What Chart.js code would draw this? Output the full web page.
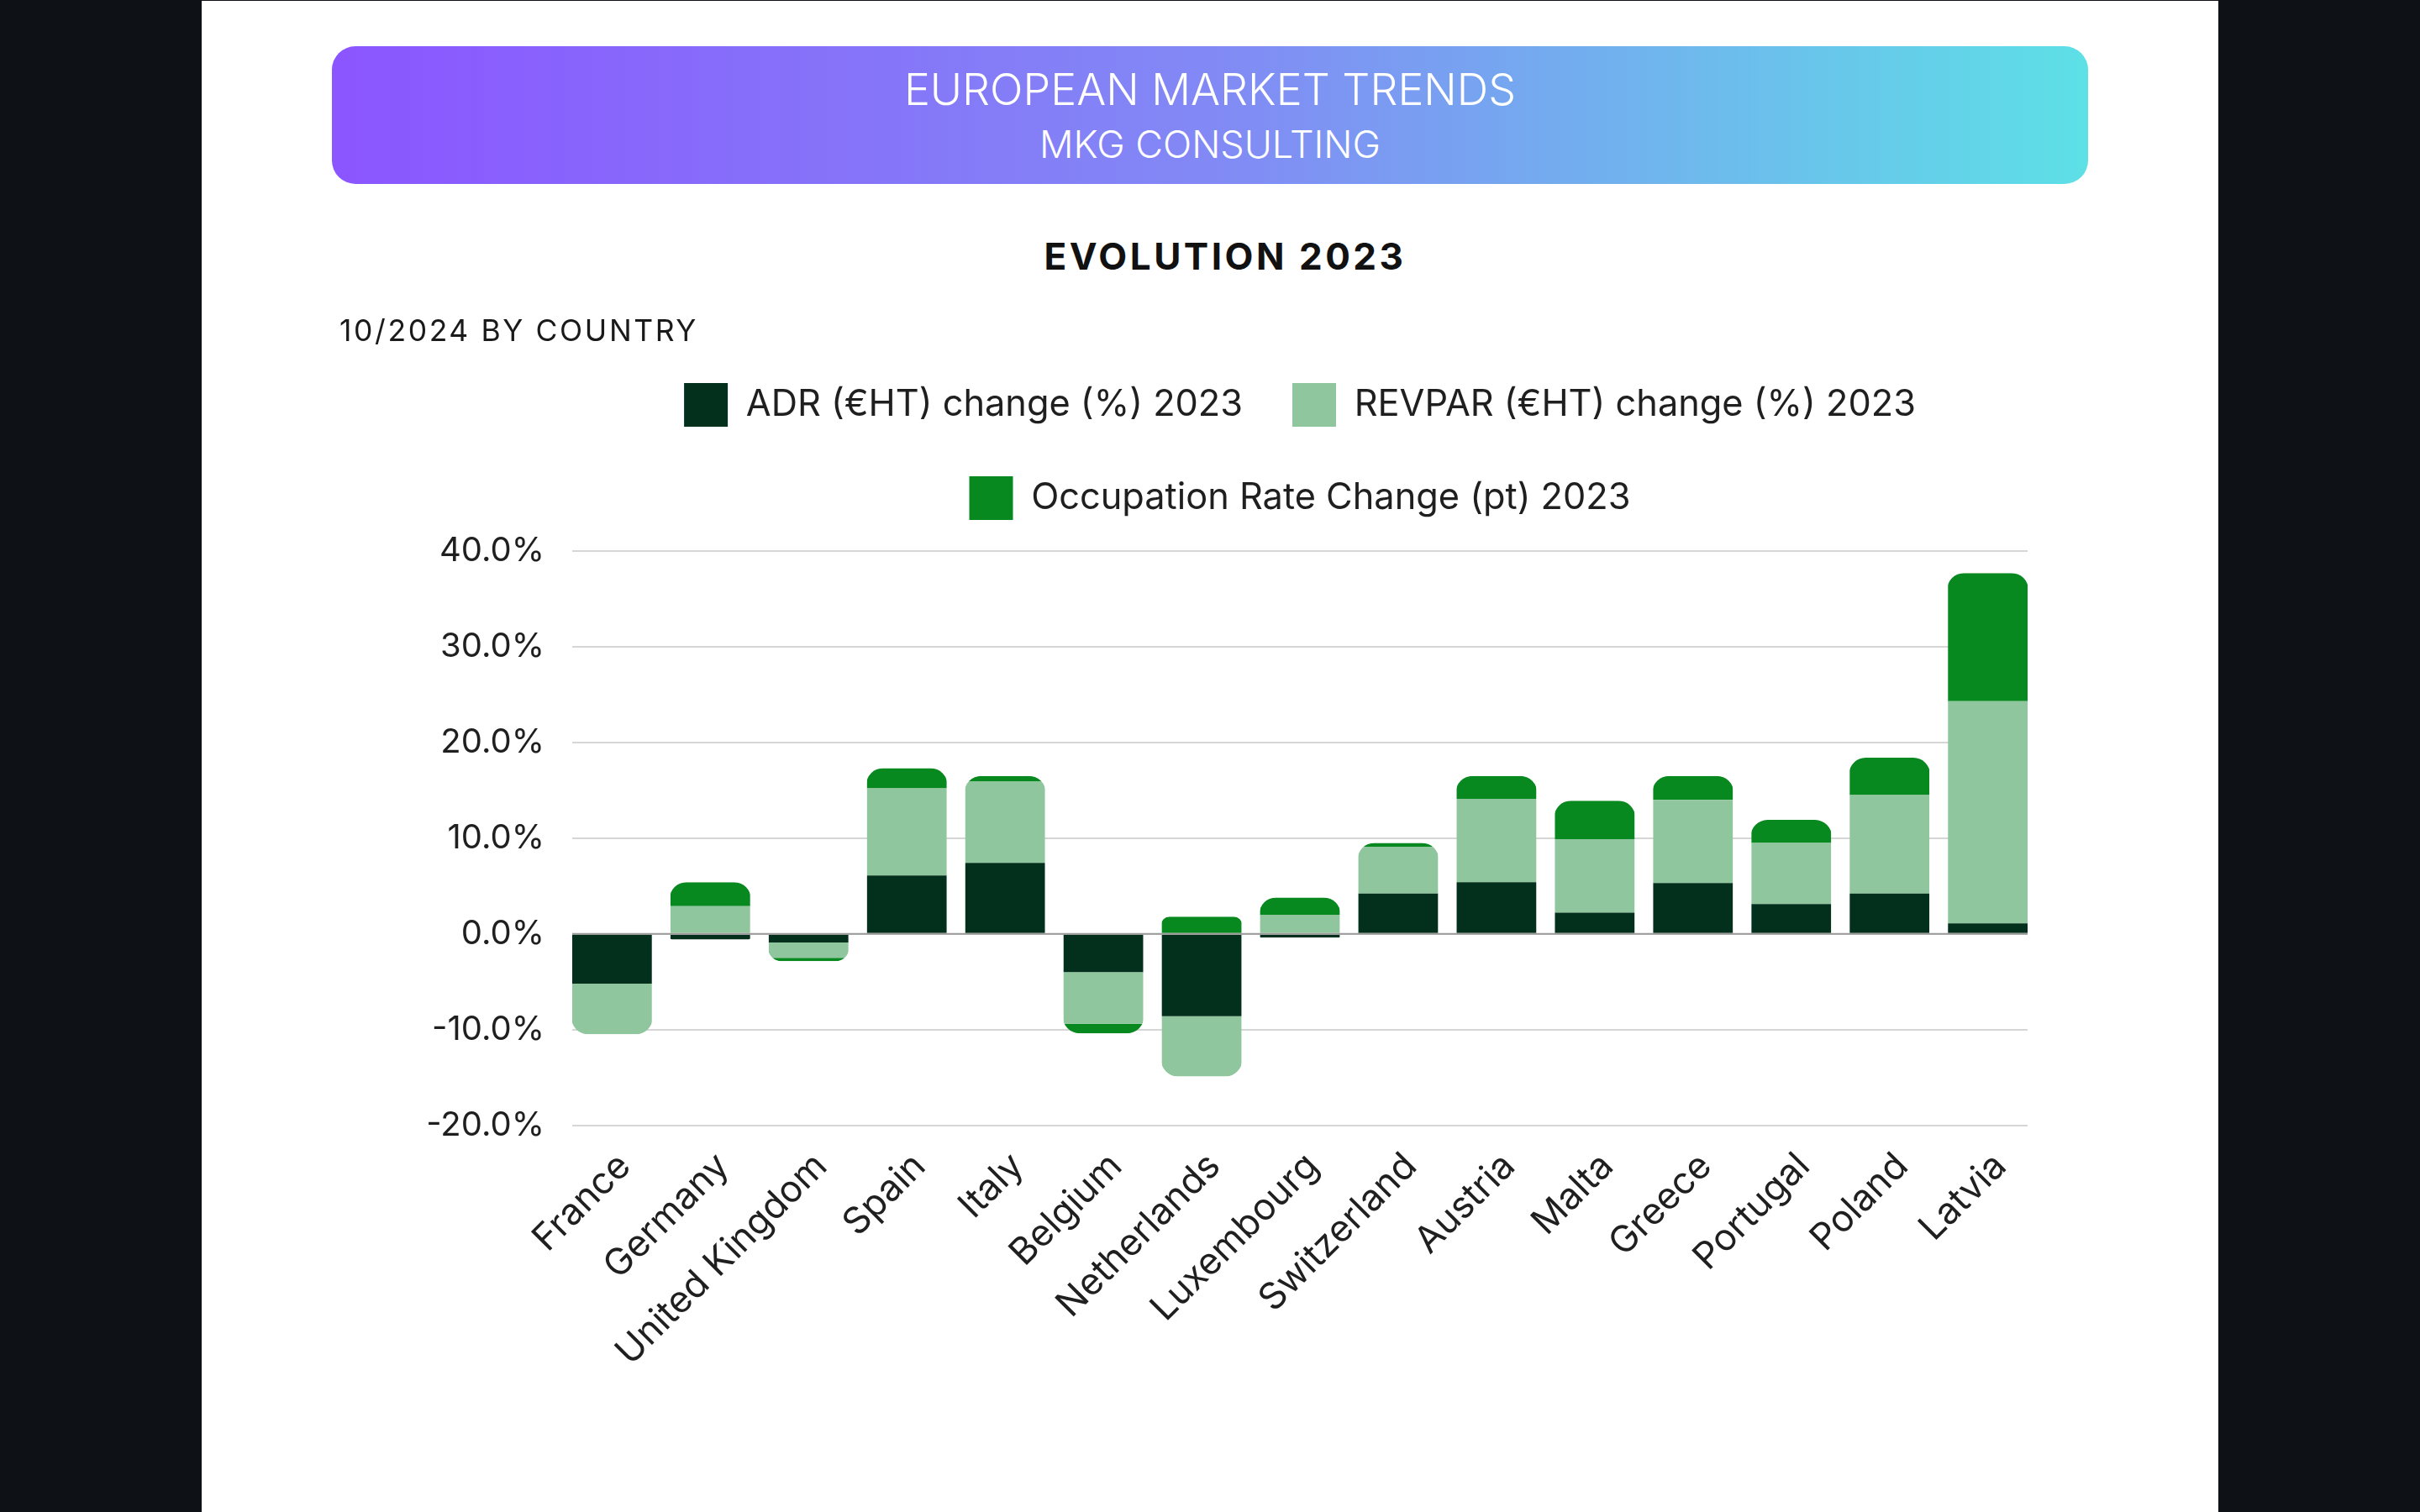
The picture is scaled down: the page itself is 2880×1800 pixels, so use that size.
<!DOCTYPE html>
<html>
<head>
<meta charset="utf-8">
<script src="https://cdn.jsdelivr.net/npm/chart.js@4.4.1/dist/chart.umd.min.js"></script>
<style>
  html, body { margin: 0; padding: 0; }
  body { width: 2880px; height: 1800px; background: #0e1217; position: relative; overflow: hidden; font-family: Inter, "Noto Sans", sans-serif; }
  #panel { position: absolute; left: 240px; top: 1px; width: 2400px; height: 1799px; background: #ffffff; }
  #header { position: absolute; left: 395px; top: 55px; width: 2090px; height: 164px; border-radius: 28px;
            background: linear-gradient(90deg, #8b55ff 0%, #8289f5 50%, #5de0e6 100%); }
  .hl { position: absolute; left: 0; width: 100%; text-align: center; color: #ffffff; line-height: 1; white-space: nowrap; }
  #h1 { top: 26px; font-size: 52px; font-weight: 300; }
  #h2 { top: 94px; font-size: 45px; font-weight: 300; }
  #title { position: absolute; left: 395px; width: 2126px; top: 283px; text-align: center; font-size: 44px; line-height: 1;
           font-weight: 700; letter-spacing: 3.5px; color: #111111; white-space: nowrap; }
  #sub { position: absolute; left: 404px; top: 375.5px; font-size: 35.5px; line-height: 1; letter-spacing: 2.6px; color: #1a1a1a; white-space: nowrap; }
  #wrap { position: absolute; left: 395px; top: 380px; width: 2090px; height: 1420px; }
</style>
</head>
<body>
<div id="panel"></div>
<div id="header">
  <div class="hl" id="h1">EUROPEAN MARKET TRENDS</div>
  <div class="hl" id="h2">MKG CONSULTING</div>
</div>
<div id="wrap"><canvas id="c" width="2090" height="1420"></canvas></div>
<div id="title">EVOLUTION 2023</div>
<div id="sub">10/2024 BY COUNTRY</div>
<script>
const countries = ['France', 'Germany', 'United Kingdom', 'Spain', 'Italy', 'Belgium', 'Netherlands',
  'Luxembourg', 'Switzerland', 'Austria', 'Malta', 'Greece', 'Portugal', 'Poland', 'Latvia'];
const seriesNames = ['ADR (€HT) change (%) 2023', 'REVPAR (€HT) change (%) 2023', 'Occupation Rate Change (pt) 2023'];
const adrChange    = [-5.2, -0.6, -0.9, 6.1, 7.4, -4.0, -8.6, -0.4, 4.2, 5.4, 2.2, 5.3, 3.1, 4.2, 1.1];
const revparChange = [-5.3,  2.9, -1.6, 9.1, 8.5, -5.4, -6.3,  2.0, 4.9, 8.7, 7.7, 8.7, 6.4, 10.3, 23.2];
const occChange    = [ 0.0,  2.5, -0.35, 2.1, 0.6, -1.0, 1.8,  1.8, 0.4, 2.4, 4.0, 2.5, 2.4, 3.9, 13.4];
const yMin = -20, yMax = 40, yStep = 10;
const colors = ['#03301d', '#8fc69d', '#07891f'];
const barRadius = 20;

const toPoints = arr => arr.map((v, i) => ({ x: i, y: v }));

const stackClip = {
  id: 'stackClip',
  beforeDatasetsDraw(chart) {
    const ctx = chart.ctx;
    const zero = chart.scales.y.getPixelForValue(0);
    const metas = chart.data.datasets.map((d, i) => chart.getDatasetMeta(i));
    ctx.save();
    ctx.beginPath();
    countries.forEach((c, i) => {
      let top = zero, bottom = zero, x = null, w = 0;
      metas.forEach(m => {
        const el = m.data[i];
        if (!el) return;
        x = el.x; w = el.width;
        top = Math.min(top, el.y, el.base);
        bottom = Math.max(bottom, el.y, el.base);
      });
      if (x === null) return;
      const left = x - w / 2;
      const hp = zero - top;
      if (hp > 0.01) { const r = Math.min(barRadius, hp / 2, w / 2); ctx.roundRect(left - 1, top, w + 2, hp, [r, r, 0, 0]); }
      const hn = bottom - zero;
      if (hn > 0.01) { const r = Math.min(barRadius, hn / 2, w / 2); ctx.roundRect(left - 1, zero, w + 2, hn, [0, 0, r, r]); }
    });
    ctx.clip();
  },
  afterDatasetsDraw(chart) {
    const ctx = chart.ctx;
    ctx.restore();
    const a = chart.chartArea;
    const z = chart.scales.y.getPixelForValue(0);
    ctx.save();
    ctx.strokeStyle = '#9a9a9a';
    ctx.lineWidth = 2;
    ctx.beginPath();
    ctx.moveTo(a.left, z);
    ctx.lineTo(a.right, z);
    ctx.stroke();
    ctx.restore();
  }
};

const legendGap = {
  id: 'legendGap',
  beforeInit(chart) {
    const legend = chart.legend;
    const fit = legend.fit;
    legend.fit = function () { fit.bind(legend)(); this.height += 27; };
  }
};

new Chart(document.getElementById('c'), {
  type: 'bar',
  data: {
    datasets: [
      { label: seriesNames[0], data: toPoints(adrChange), backgroundColor: colors[0] },
      { label: seriesNames[1], data: toPoints(revparChange), backgroundColor: colors[1] },
      { label: seriesNames[2], data: toPoints(occChange), backgroundColor: colors[2] }
    ]
  },
  plugins: [stackClip, legendGap],
  options: {
    responsive: false,
    animation: false,
    borderWidth: 0,
    barPercentage: 0.9,
    categoryPercentage: 0.9,
    layout: { padding: { top: 17, right: 72, left: 0, bottom: 0 } },
    plugins: {
      tooltip: { enabled: false },
      legend: {
        position: 'top',
        fullSize: false,
        labels: { boxWidth: 52, boxHeight: 52, padding: 59, color: '#1f1f1f', font: { family: 'Inter', size: 43.3 } }
      }
    },
    scales: {
      x: {
        type: 'linear', stacked: true, min: -0.405, max: 14.405, offset: false,
        grid: { display: false }, border: { display: false },
        ticks: {
          stepSize: 1, includeBounds: false, autoSkip: false, maxRotation: 45, minRotation: 45,
          padding: 15, labelOffset: 15,
          color: '#1f1f1f', font: { family: 'Inter', size: 44 },
          callback: v => Number.isInteger(v) ? countries[v] : ''
        },
        afterFit(s) { s.height = 460.5; }
      },
      y: {
        stacked: true, min: yMin, max: yMax,
        grid: { color: '#d6d6d6', lineWidth: 2, drawTicks: false },
        border: { display: false },
        ticks: { stepSize: yStep, padding: 33, color: '#1f1f1f', font: { family: 'Inter', size: 40 },
                 callback: v => v.toFixed(1) + '%' },
        afterFit(s) { s.width = 286; }
      }
    }
  }
});
</script>
</body>
</html>
